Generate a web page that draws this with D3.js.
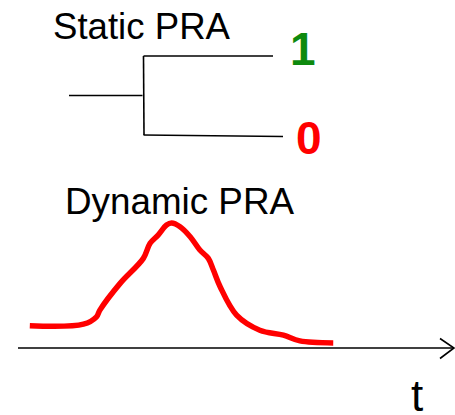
<!DOCTYPE html>
<html>
<head>
<meta charset="utf-8">
<script src="https://cdn.jsdelivr.net/npm/d3@7"></script>
<style>
  html, body { margin: 0; padding: 0; background: #fff; }
  svg { display: block; }
  text { font-family: "Liberation Sans", Arial, sans-serif; }
</style>
</head>
<body>
<svg id="chart" width="455" height="415"></svg>
<script>
// ---- data ----
const staticTitle = "Static PRA";
const dynamicTitle = "Dynamic PRA";
const axisLabel = "t";
const outcomes = ["1", "0"];
const outcomeColors = ["#0e8a0e", "#ff0000"];
// dynamic PRA curve: time (arbitrary units) and PRA value (peak = 1)
const curveT = [0.28, 1.55, 1.86, 1.94, 2.42, 2.97, 3.13, 3.32, 3.52, 3.64, 3.84, 4.08, 4.31, 4.51, 4.63, 4.79, 5.18, 5.73, 6.29, 6.68, 7.47];
const curveV = [0.174, 0.187, 0.246, 0.30, 0.515, 0.716, 0.837, 0.903, 0.984, 1.0, 0.97, 0.89, 0.783, 0.716, 0.622, 0.488, 0.26, 0.139, 0.099, 0.053, 0.037];

// ---- layout ----
const svg = d3.select("#chart");

// Static PRA tree
svg.append("text").attr("x", 53).attr("y", 38.5)
  .attr("font-size", 36).attr("fill", "#000")
  .attr("textLength", 177).attr("lengthAdjust", "spacingAndGlyphs").text(staticTitle);

const branchY = d3.scalePoint().domain(outcomes).range([56, 135]);
const rootX0 = 69, forkX = 143.5;
const branchEnd = d3.scaleOrdinal().domain(outcomes).range([273, 283]);
const midY = (branchY(outcomes[0]) + branchY(outcomes[1])) / 2;

const tree = svg.append("g").attr("stroke", "#000").attr("stroke-width", 1.6).attr("fill", "none");
tree.append("line").attr("x1", rootX0).attr("x2", forkX - 1).attr("y1", midY).attr("y2", midY);
tree.append("line").attr("x1", forkX).attr("x2", forkX + 0.5)
  .attr("y1", branchY(outcomes[0])).attr("y2", branchY(outcomes[1]));
tree.selectAll("line.branch").data(outcomes).join("line").attr("class", "branch")
  .attr("x1", forkX).attr("x2", d => branchEnd(d))
  .attr("y1", d => branchY(d)).attr("y2", (d, i) => branchY(d) + (i === 1 ? 1.5 : 0));

svg.selectAll("text.outcome").data(outcomes).join("text").attr("class", "outcome")
  .attr("x", (d, i) => i === 0 ? 290 : 296)
  .attr("y", (d, i) => branchY(d) + (i === 0 ? 8.5 : 19))
  .attr("font-size", 46).attr("font-weight", "bold")
  .attr("fill", (d, i) => outcomeColors[i]).text(d => d);

// Dynamic PRA
svg.append("text").attr("x", 65).attr("y", 213.5)
  .attr("font-size", 36).attr("fill", "#000")
  .attr("textLength", 229).attr("lengthAdjust", "spacingAndGlyphs").text(dynamicTitle);

const x = d3.scaleLinear().domain([0, 10]).range([18, 440]);
const y = d3.scaleLinear().domain([0, 1]).range([347.5, 223]);

const axisY = 348;
svg.append("line").attr("x1", x(0)).attr("x2", 454).attr("y1", axisY).attr("y2", axisY)
  .attr("stroke", "#000").attr("stroke-width", 1.6);
svg.append("path")
  .attr("d", d3.line()([[440, axisY - 9.5], [454, axisY], [440, axisY + 10.5]]))
  .attr("fill", "none").attr("stroke", "#000").attr("stroke-width", 1.6);

svg.append("text").attr("x", 411).attr("y", 411)
  .attr("font-size", 44).attr("fill", "#000").text(axisLabel);

const pts = curveT.map((t, i) => [t, curveV[i]]);
svg.append("path").datum(pts)
  .attr("d", d3.line().x(d => x(d[0])).y(d => y(d[1])).curve(d3.curveCatmullRom.alpha(0.5)))
  .attr("fill", "none").attr("stroke", "#ff0000").attr("stroke-width", 5.5)
  .attr("stroke-linejoin", "round");
</script>
</body>
</html>
